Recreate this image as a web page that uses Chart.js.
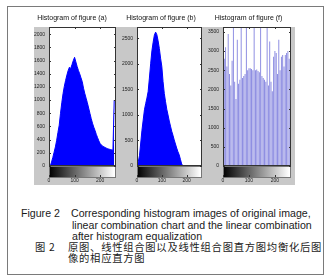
<!DOCTYPE html>
<html>
<head>
<meta charset="utf-8">
<script src="https://cdn.jsdelivr.net/npm/chart.js@4/dist/chart.umd.min.js"></script>
<style>
body{margin:0;width:331px;height:277px;background:#fff;position:relative;overflow:hidden;font-family:"Liberation Sans",Arial,sans-serif;}
#frame{position:absolute;left:7px;top:6px;width:315px;height:267px;border:1px solid #7a7a7a;}
#panel{position:absolute;left:34px;top:27px;width:261px;height:158px;background:#c8c8c8;}
canvas{position:absolute;}
.cap{position:absolute;font-size:10.6px;line-height:12px;color:#1a1a1a;white-space:nowrap;}
.zh{font-family:"Noto Sans CJK SC",sans-serif;font-size:10.3px;letter-spacing:0.75px;}
</style>
</head>
<body>
<div id="frame"></div>
<div id="panel"></div>
<canvas id="ha" width="99" height="180" style="left:28px;top:8px"></canvas>
<canvas id="hb" width="88" height="180" style="left:120px;top:8px"></canvas>
<canvas id="hf" width="96" height="180" style="left:206px;top:8px"></canvas>

<div class="cap" style="left:21px;top:207px">Figure 2</div>
<div class="cap" style="left:71px;top:207px">Corresponding histogram images of original image,</div>
<div class="cap" style="left:72px;top:219px">linear combination chart and the linear combination</div>
<div class="cap" style="left:72px;top:230px">after histogram equalization</div>
<div class="cap zh" style="left:35px;top:241px">图 2</div>
<div class="cap zh" style="left:68px;top:241px">原图、线性组合图以及线性组合图直方图均衡化后图</div>
<div class="cap zh" style="left:68px;top:252px">像的相应直方图</div>

<script>
// grey levels (bin positions), shared by the three histograms
const bins = [0, 5, 10, 15, 20, 25, 30, 35, 40, 45, 50, 55, 60, 65, 70, 75, 80, 85, 90, 95,
    100, 105, 110, 115, 120, 125, 130, 135, 140, 145, 150, 155, 160, 165, 170, 175, 180, 185, 190, 195,
    200, 205, 210, 215, 220, 225, 230, 235, 240, 245, 250, 255];

// figure (a): original image
const histA = [0, 0, 60, 130, 210, 290, 390, 510, 620, 800, 960, 1100, 1210, 1300, 1380, 1450, 1500, 1480, 1540, 1600,
    1650, 1580, 1510, 1450, 1400, 1340, 1280, 1180, 1100, 1030, 960, 880, 800, 720, 650, 590, 540, 480, 430, 380,
    340, 320, 300, 290, 280, 270, 260, 255, 250, 245, 240, 1000];

// figure (b): linear combination chart
const histB = [0, 80, 200, 450, 700, 900, 1100, 1220, 1330, 1460, 1720, 2000, 2250, 2420, 2560, 2620, 2570, 2450, 2300, 2110,
    1950, 1650, 1420, 1260, 1110, 1000, 880, 780, 680, 600, 510, 430, 350, 280, 220, 130, 40, 0, 0, 0,
    0, 0, 0, 0, 0, 0, 0, 0, 0, 0, 0, 0];

// figure (f): after histogram equalization
const histF = [2850, 2800, 3100, 2600, 3450, 2400, 2100, 2750, 3900, 2200, 1750, 3300, 2150, 2250, 3900, 2300, 2350, 2400, 3900, 2500,
    2550, 2550, 2530, 2500, 3900, 2500, 2520, 2480, 2450, 3900, 2350, 2300, 2250, 2200, 3900, 2100, 3250, 2200, 1950, 2850,
    3000, 2950, 2400, 3300, 2500, 2850, 2900, 2600, 2900, 2950, 3000, 2800];

const xTicks = [0, 100, 200];
const yTicksA = [0, 200, 400, 600, 800, 1000, 1200, 1400, 1600, 1800, 2000];
const yTicksB = [0, 500, 1000, 1500, 2000, 2500];
const yTicksF = [0, 500, 1000, 1500, 2000, 2500, 3000, 3500];

Chart.defaults.font.family = '"Liberation Sans", Arial, sans-serif';

// white axes box, grey colour bar under it, inward tick marks (Matlab look)
const matlabAxes = {
    id: 'matlabAxes',
    beforeDraw(chart) {
        const { ctx, chartArea: a } = chart;
        ctx.save();
        ctx.fillStyle = '#fff';
        ctx.fillRect(a.left, a.top, a.width, a.height);
        ctx.restore();
    },
    afterDatasetsDraw(chart) {
        const { ctx, chartArea: a, scales } = chart;
        const x = scales.x, y = scales.y;
        ctx.save();
        // colour bar
        const x0 = x.getPixelForValue(0), x1 = x.getPixelForValue(255);
        const g = ctx.createLinearGradient(x0, 0, x1, 0);
        g.addColorStop(0, '#000');
        g.addColorStop(1, '#fff');
        ctx.fillStyle = '#fff';
        ctx.fillRect(a.left, a.bottom, a.width, 11);
        ctx.fillStyle = g;
        ctx.fillRect(x0, a.bottom, x1 - x0, 11);
        ctx.strokeStyle = '#777';
        ctx.lineWidth = 1;
        ctx.strokeRect(Math.round(a.left) + 0.5, Math.round(a.bottom) + 0.5, Math.round(a.width) - 1, 11);
        // axes box
        ctx.strokeStyle = '#333';
        ctx.strokeRect(Math.round(a.left) + 0.5, Math.round(a.top) + 0.5, Math.round(a.width) - 1, Math.round(a.height) - 1);
        // ticks
        ctx.beginPath();
        y.ticks.forEach(t => {
            const py = Math.round(y.getPixelForValue(t.value)) + 0.5;
            ctx.moveTo(a.left, py); ctx.lineTo(a.left + 2, py);
            ctx.moveTo(a.right, py); ctx.lineTo(a.right - 2, py);
        });
        x.ticks.forEach(t => {
            const px = Math.round(x.getPixelForValue(t.value)) + 0.5;
            ctx.moveTo(px, a.top); ctx.lineTo(px, a.top + 2);
            ctx.moveTo(px, a.bottom + 11); ctx.lineTo(px, a.bottom + 9);
        });
        ctx.stroke();
        ctx.restore();
    }
};

function makeChart(id, title, dataset, type, yMax, yTicks, yWidth, padRight) {
    return new Chart(document.getElementById(id), {
        type: type,
        data: { datasets: [dataset] },
        options: {
            responsive: false,
            animation: false,
            devicePixelRatio: 1,
            layout: { padding: { left: 0, right: padRight, top: 0, bottom: 0 } },
            plugins: {
                legend: { display: false },
                tooltip: { enabled: false },
                title: {
                    display: true,
                    text: title,
                    color: '#111',
                    font: { size: 7, weight: 'normal' },
                    padding: { top: 5.8, bottom: 4.8 }
                }
            },
            scales: {
                x: {
                    type: 'linear',
                    min: 0,
                    max: 262,
                    offset: false,
                    grid: { display: false, drawTicks: false },
                    border: { display: false },
                    afterBuildTicks: s => { s.ticks = xTicks.map(v => ({ value: v })); },
                    afterFit: s => { s.height = 22; },
                    ticks: { padding: 12, font: { size: 5 }, color: '#222', maxRotation: 0, autoSkip: false, callback: v => String(v) }
                },
                y: {
                    min: 0,
                    max: yMax,
                    grid: { display: false, drawTicks: false },
                    border: { display: false },
                    afterBuildTicks: s => { s.ticks = yTicks.map(v => ({ value: v })); },
                    afterFit: s => { s.width = yWidth; },
                    ticks: { padding: 4, font: { size: 5 }, color: '#222', autoSkip: false, callback: v => String(v) }
                }
            }
        },
        plugins: [matlabAxes]
    });
}

makeChart('ha', 'Histogram of figure (a)', {
    data: bins.map((b, i) => ({ x: b, y: histA[i] })),
    borderColor: '#0000ff',
    backgroundColor: '#0000ff',
    borderWidth: 1,
    pointRadius: 0,
    fill: 'origin',
    tension: 0
}, 'line', 2110, yTicksA, 21, 11);

makeChart('hb', 'Histogram of figure (b)', {
    data: bins.map((b, i) => ({ x: b, y: histB[i] })),
    borderColor: '#0000ff',
    backgroundColor: '#0000ff',
    borderWidth: 1,
    pointRadius: 0,
    fill: 'origin',
    tension: 0
}, 'line', 2720, yTicksB, 17, 6);

makeChart('hf', 'Histogram of figure (f)', {
    data: bins.map((b, i) => ({ x: b, y: histF[i] })),
    backgroundColor: 'rgba(80, 80, 210, 0.7)',
    borderWidth: 0,
    barPercentage: 0.7,
    categoryPercentage: 1
}, 'bar', 3630, yTicksF, 17, 11);
</script>
</body>
</html>
